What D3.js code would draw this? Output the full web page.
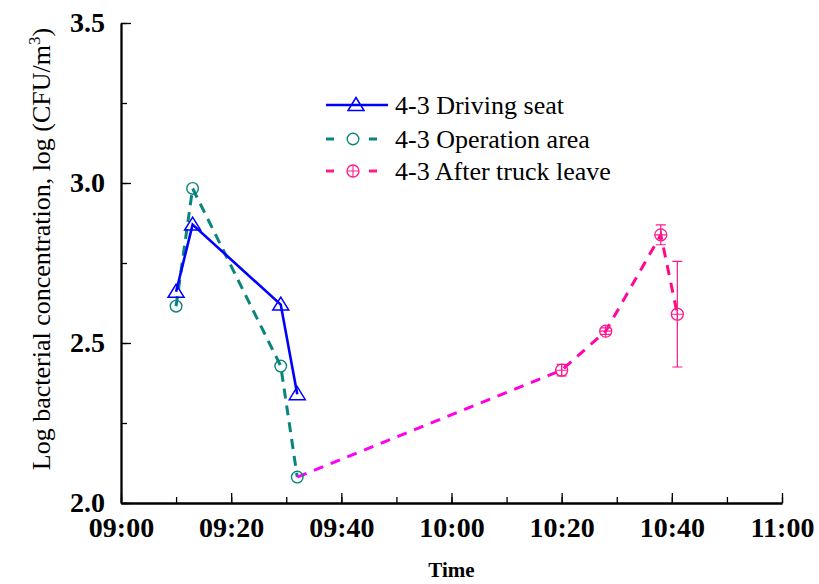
<!DOCTYPE html>
<html>
<head>
<meta charset="utf-8">
<script src="https://cdn.jsdelivr.net/npm/d3@7"></script>
<style>
  html, body { margin: 0; padding: 0; background: #fff; }
  svg { display: block; }
  text { font-family: "Liberation Serif", "Times New Roman", serif; fill: #000; }
</style>
</head>
<body>
<svg id="chart" width="819" height="584"></svg>
<script>
// Sampling times (HH:MM) and log10 concentrations for each location
const driveTimes = ["09:10", "09:13", "09:29", "09:32"];
const driveValues = [2.66, 2.87, 2.62, 2.34];

const opTimes = ["09:10", "09:13", "09:29", "09:32"];
const opValues = [2.615, 2.983, 2.428, 2.081];

// The after-leave trace starts from the last operation-area reading
const afterTimes = ["09:32", "10:20", "10:28", "10:38", "10:41"];
const afterValues = [2.081, 2.415, 2.537, 2.838, 2.59];
const afterErrors = [0, 0.018, 0.01, 0.031, 0.165];

const seriesNames = ["4-3 Driving seat", "4-3 Operation area", "4-3 After truck leave"];

const yTickValues = [2.0, 2.5, 3.0, 3.5];
const xDomain = ["09:00", "11:00"];
const yDomain = [2.0, 3.5];

const parseT = d3.timeParse("%H:%M");
const fmtT = d3.timeFormat("%H:%M");

const W = 819, H = 584;
const margin = { left: 121, top: 23, right: 37, bottom: 81 };
const iw = W - margin.left - margin.right;
const ih = H - margin.top - margin.bottom;

const svg = d3.select("#chart");
const g = svg.append("g").attr("transform", `translate(${margin.left},${margin.top})`);

const x = d3.scaleTime().domain(xDomain.map(parseT)).range([0, iw]);
const y = d3.scaleLinear().domain(yDomain).range([ih, 0]);

const BLUE = "#0000ff";
const TEAL = "#0a857c";
const PINK = "#ff1a8c";

// Gradient for the after-leave dashed line (magenta into deep pink)
const defs = svg.append("defs");
const grad = defs.append("linearGradient")
  .attr("id", "afterGrad")
  .attr("gradientUnits", "userSpaceOnUse")
  .attr("x1", x(parseT(afterTimes[0]))).attr("y1", 0)
  .attr("x2", x(parseT(afterTimes[afterTimes.length - 1]))).attr("y2", 0);
grad.append("stop").attr("offset", "0%").attr("stop-color", "#ff00ff");
grad.append("stop").attr("offset", "55%").attr("stop-color", "#ff00e0");
grad.append("stop").attr("offset", "100%").attr("stop-color", "#ff0a80");

// Axes: ticks point inward, major every 20 min / 0.5, minor in between
const xMajor = d3.axisBottom(x)
  .ticks(d3.timeMinute.every(20))
  .tickFormat(fmtT)
  .tickSizeInner(-10).tickSizeOuter(0).tickPadding(14);
const xMinor = d3.axisBottom(x)
  .ticks(d3.timeMinute.every(10))
  .tickFormat("")
  .tickSizeInner(-6).tickSizeOuter(0);

const yMajor = d3.axisLeft(y)
  .tickValues(yTickValues)
  .tickFormat(d3.format(".1f"))
  .tickSizeInner(-10).tickSizeOuter(0).tickPadding(16);
const yMinor = d3.axisLeft(y)
  .tickValues(d3.range(2.0, 3.5001, 0.25))
  .tickFormat("")
  .tickSizeInner(-6).tickSizeOuter(0);

const gxMinor = g.append("g").attr("transform", `translate(0,${ih})`).call(xMinor);
const gx = g.append("g").attr("transform", `translate(0,${ih})`).call(xMajor);
const gyMinor = g.append("g").call(yMinor);
const gy = g.append("g").call(yMajor);

[gxMinor, gx, gyMinor, gy].forEach(a => {
  a.select(".domain").attr("stroke", "#000").attr("stroke-width", 1.8);
  a.selectAll(".tick line").attr("stroke", "#000").attr("stroke-width", 1.3);
});
gx.selectAll(".tick text")
  .style("font-family", "'Liberation Serif', serif")
  .style("font-weight", "bold").style("font-size", "28px");
gy.selectAll(".tick text")
  .style("font-family", "'Liberation Serif', serif")
  .style("font-weight", "bold").style("font-size", "28px");

// Axis titles
svg.append("text")
  .attr("x", margin.left + iw / 2).attr("y", 577)
  .attr("text-anchor", "middle")
  .style("font-weight", "bold").style("font-size", "21px")
  .text("Time");

const yl = svg.append("text")
  .attr("transform", `translate(50,${249}) rotate(-90)`)
  .attr("text-anchor", "middle")
  .style("font-size", "26px");
yl.append("tspan").text("Log bacterial concentration, log (CFU/m");
yl.append("tspan").attr("dy", -10).style("font-size", "17px").text("3");
yl.append("tspan").attr("dy", 10).text(")");

// Series data
const drive = driveTimes.map((t, i) => ({ t: parseT(t), v: driveValues[i] }));
const op = opTimes.map((t, i) => ({ t: parseT(t), v: opValues[i] }));
const after = afterTimes.map((t, i) => ({ t: parseT(t), v: afterValues[i], e: afterErrors[i] }));

const line = d3.line().x(d => x(d.t)).y(d => y(d.v));

// Lines
g.append("path").datum(op).attr("d", line)
  .attr("fill", "none").attr("stroke", TEAL).attr("stroke-width", 3)
  .attr("stroke-dasharray", "10,7");
g.append("path").datum(after).attr("d", line)
  .attr("fill", "none").attr("stroke", "url(#afterGrad)").attr("stroke-width", 3)
  .attr("stroke-dasharray", "10,8");
g.append("path").datum(drive).attr("d", line)
  .attr("fill", "none").attr("stroke", BLUE).attr("stroke-width", 2.6);

// Marker shapes
const triPath = "M0,-7.5 L8,5.5 L-8,5.5 Z";

function drawTri(sel, cx, cy) {
  sel.append("path").attr("d", triPath)
    .attr("transform", `translate(${cx},${cy})`)
    .attr("fill", "none").attr("stroke", BLUE).attr("stroke-width", 1.5);
}
function drawCircle(sel, cx, cy) {
  sel.append("circle").attr("cx", cx).attr("cy", cy).attr("r", 5.8)
    .attr("fill", "none").attr("stroke", TEAL).attr("stroke-width", 1.4);
}
function drawCrossCircle(sel, cx, cy) {
  sel.append("circle").attr("cx", cx).attr("cy", cy).attr("r", 6)
    .attr("fill", "none").attr("stroke", PINK).attr("stroke-width", 1.3);
  sel.append("path")
    .attr("d", `M${cx - 6},${cy} H${cx + 6} M${cx},${cy - 6} V${cy + 6}`)
    .attr("stroke", PINK).attr("stroke-width", 1.1);
}

// Error bars on the after-leave readings (the shared first point has none)
const eb = g.append("g");
after.slice(1).forEach(d => {
  const cx = x(d.t), y0 = y(d.v - d.e), y1 = y(d.v + d.e);
  eb.append("path")
    .attr("d", `M${cx},${y0} V${y1} M${cx - 5},${y0} H${cx + 5} M${cx - 5},${y1} H${cx + 5}`)
    .attr("stroke", PINK).attr("stroke-width", 1.2).attr("fill", "none");
});

const mk = g.append("g");
op.forEach(d => drawCircle(mk, x(d.t), y(d.v)));
after.slice(1).forEach(d => drawCrossCircle(mk, x(d.t), y(d.v)));
drive.forEach(d => drawTri(mk, x(d.t), y(d.v)));

// Legend
const lg = svg.append("g");
const rows = [105, 139, 171];
const lx0 = 326, lx1 = 388, lmx = 356, ltx = 395;

lg.append("line").attr("x1", lx0).attr("x2", lx1).attr("y1", rows[0]).attr("y2", rows[0])
  .attr("stroke", BLUE).attr("stroke-width", 2.6);
drawTri(lg, lmx, rows[0]);

// Dashed entries: one short dash on each side of the marker
function legendDashes(cy, color) {
  [[326, 334], [369, 377]].forEach(([a, b]) => {
    lg.append("line").attr("x1", a).attr("x2", b).attr("y1", cy).attr("y2", cy)
      .attr("stroke", color).attr("stroke-width", 3);
  });
}
legendDashes(rows[1], TEAL);
drawCircle(lg, 353, rows[1]);
legendDashes(rows[2], PINK);
drawCrossCircle(lg, 353, rows[2]);

seriesNames.forEach((name, i) => {
  lg.append("text").attr("x", ltx).attr("y", rows[i] + 9)
    .style("font-size", "26px").text(name);
});
</script>
</body>
</html>
